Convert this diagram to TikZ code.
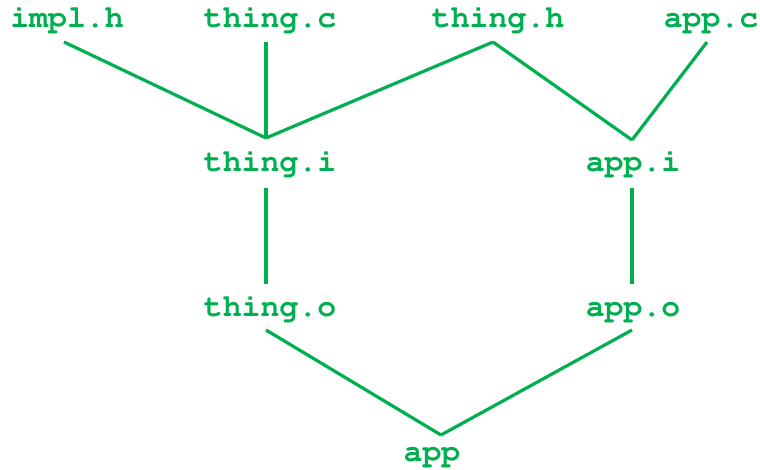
\documentclass[tikz,border=0pt]{standalone}
\usepackage[T1]{fontenc}
\definecolor{dgreen}{HTML}{00B050}
\begin{document}
\begin{tikzpicture}[x=1pt,y=-1pt,
  file/.style={inner sep=0pt,anchor=base,text=dgreen,font=\fontfamily{pcr}\fontseries{b}\fontsize{31.5}{31.5}\selectfont},
  link/.style={draw=dgreen,line width=3.2pt}]
\useasboundingbox (0,0) rectangle (760,469);
\node[file] (impl) at (67,27) {impl.h};
\node[file] (thingc) at (270,27) {thing.c};
\node[file] (thingh) at (498,27) {thing.h};
\node[file] (appc) at (711,27) {app.c};
\node[file] (thingi) at (270,171) {thing.i};
\node[file] (appi) at (633,171) {app.i};
\node[file] (thingo) at (270,316) {thing.o};
\node[file] (appo) at (633,316) {app.o};
\node[file] (app) at (432,461) {app};
% connection points
\coordinate (impl-b) at (64,42);
\coordinate (thingc-b) at (266,42);
\coordinate (thingh-b) at (493,42);
\coordinate (appc-b) at (707,42);
\coordinate (thingi-t) at (266,138);
\coordinate (appi-t) at (632,140);
\coordinate (thingi-b) at (266,188);
\coordinate (appi-b) at (632,188);
\coordinate (thingo-t) at (266,284);
\coordinate (appo-t) at (632,284);
\coordinate (thingo-b) at (266,330);
\coordinate (appo-b) at (632,330);
\coordinate (app-t) at (441,435);
\draw[link] (impl-b) -- (thingi-t);
\draw[link] (thingc-b) -- (thingi-t);
\draw[link] (thingh-b) -- (thingi-t);
\draw[link] (thingh-b) -- (appi-t);
\draw[link] (appc-b) -- (appi-t);
\draw[link] (thingi-b) -- (thingo-t);
\draw[link] (appi-b) -- (appo-t);
\draw[link] (thingo-b) -- (app-t);
\draw[link] (appo-b) -- (app-t);
\end{tikzpicture}
\end{document}
